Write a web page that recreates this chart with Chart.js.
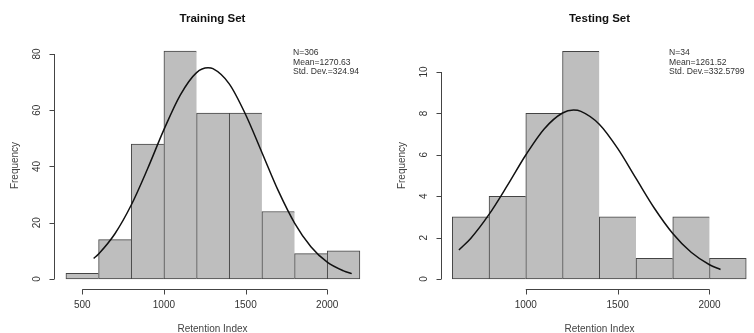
<!DOCTYPE html>
<html>
<head>
<meta charset="utf-8">
<script src="https://cdn.jsdelivr.net/npm/chart.js@4.4.1/dist/chart.umd.min.js"></script>
<style>
  html, body { margin: 0; padding: 0; background: #fff; overflow: hidden; }
  #wrap { position: relative; width: 754px; height: 333px; overflow: hidden; }
  canvas { position: absolute; top: 0; }
  #train { left: 0; }
  #test { left: 377px; }
</style>
</head>
<body>
<div id="wrap">
  <canvas id="train" width="377" height="333"></canvas>
  <canvas id="test" width="390" height="333"></canvas>
</div>
<script>
// ===============================
// DATA
// ===============================
const trainEdges  = [400, 600, 800, 1000, 1200, 1400, 1600, 1800, 2000, 2200];
const trainCenter = [500, 700, 900, 1100, 1300, 1500, 1700, 1900, 2100];
const trainCounts = [2, 14, 48, 81, 59, 59, 24, 9, 10];
const trainCurveX = [570, 600, 700, 800, 900, 1000, 1100, 1200, 1270, 1300, 1400, 1500, 1600, 1700, 1800, 1900, 2000, 2100, 2150];
const trainCurveY = [7.3, 8.9, 16.1, 26.3, 39.2, 53.1, 65.4, 73.4, 75.1, 74.8, 69.4, 58.5, 45.0, 31.4, 19.9, 11.5, 6.0, 2.9, 1.9];
const trainXTicks = [500, 1000, 1500, 2000];
const trainYTicks = [0, 20, 40, 60, 80];
const trainStats  = ["N=306", "Mean=1270.63", "Std. Dev.=324.94"];

const testEdges  = [600, 800, 1000, 1200, 1400, 1600, 1800, 2000, 2200];
const testCenter = [700, 900, 1100, 1300, 1500, 1700, 1900, 2100];
const testCounts = [3, 4, 8, 11, 3, 1, 3, 1];
const testCurveX = [636, 700, 800, 900, 1000, 1100, 1200, 1260, 1300, 1400, 1500, 1600, 1700, 1800, 1900, 2000, 2060];
const testCurveY = [1.4, 1.96, 3.12, 4.52, 5.99, 7.25, 8.02, 8.16, 8.10, 7.48, 6.31, 4.86, 3.42, 2.20, 1.29, 0.69, 0.46];
const testXTicks = [1000, 1500, 2000];
const testYTicks = [0, 2, 4, 6, 8, 10];
const testStats  = ["N=34", "Mean=1261.52", "Std. Dev.=332.5799"];

const FONT = '"Liberation Sans", Arial, Helvetica, sans-serif';

// ===============================
// R-STYLE AXES + TEXT
// ===============================
function rStyle(title, xTicks, yTicks, stats, statsX) {
  return {
    id: "rstyle",
    afterDraw(chart) {
      const { ctx, chartArea, scales: { x, y } } = chart;
      ctx.save();
      ctx.strokeStyle = "#444";
      ctx.fillStyle = "#333";
      ctx.lineWidth = 1;

      // y axis
      const ax = Math.round(chartArea.left) + 0.5;
      ctx.beginPath();
      ctx.moveTo(ax, y.getPixelForValue(yTicks[0]));
      ctx.lineTo(ax, y.getPixelForValue(yTicks[yTicks.length - 1]));
      yTicks.forEach(t => {
        const py = Math.round(y.getPixelForValue(t)) + 0.5;
        ctx.moveTo(ax - 5, py);
        ctx.lineTo(ax, py);
      });
      ctx.stroke();
      ctx.font = "10px " + FONT;
      ctx.textAlign = "center";
      ctx.textBaseline = "middle";
      yTicks.forEach(t => {
        ctx.save();
        ctx.translate(ax - 17, y.getPixelForValue(t));
        ctx.rotate(-Math.PI / 2);
        ctx.fillText(String(t), 0, 0);
        ctx.restore();
      });

      // x axis
      const ay = Math.round(chartArea.bottom) + 0.5;
      ctx.beginPath();
      ctx.moveTo(x.getPixelForValue(xTicks[0]), ay);
      ctx.lineTo(x.getPixelForValue(xTicks[xTicks.length - 1]), ay);
      xTicks.forEach(t => {
        const px = Math.round(x.getPixelForValue(t)) + 0.5;
        ctx.moveTo(px, ay);
        ctx.lineTo(px, ay + 5);
      });
      ctx.stroke();
      xTicks.forEach(t => ctx.fillText(String(t), x.getPixelForValue(t), 305));

      // axis titles
      const cx = (chartArea.left + chartArea.right) / 2;
      ctx.fillStyle = "#444";
      ctx.fillText("Retention Index", cx, 329);
      ctx.save();
      ctx.translate(chartArea.left - 39, (chartArea.top + chartArea.bottom) / 2);
      ctx.rotate(-Math.PI / 2);
      ctx.fillText("Frequency", 0, 0);
      ctx.restore();

      // main title
      ctx.fillStyle = "#111";
      ctx.font = "bold 11.5px " + FONT;
      ctx.fillText(title, cx, 19);

      // stats
      ctx.fillStyle = "#333";
      ctx.font = "8.6px " + FONT;
      ctx.textAlign = "left";
      stats.forEach((s, i) => ctx.fillText(s, statsX, 52.7 + i * 9.5));
      ctx.restore();
    }
  };
}

function histo(canvasId, cfg) {
  const last = cfg.counts.length - 1;
  return new Chart(document.getElementById(canvasId), {
    type: "bar",
    data: {
      datasets: [
        {
          type: "line",
          order: 0,
          data: cfg.curveX.map((v, i) => ({ x: v, y: cfg.curveY[i] })),
          borderColor: "#111",
          borderWidth: 1.5,
          pointRadius: 0,
          cubicInterpolationMode: "monotone",
          fill: false
        },
        {
          type: "bar",
          order: 1,
          data: cfg.centers.map((v, i) => ({ x: v, y: cfg.counts[i] })),
          backgroundColor: "#bebebe",
          borderColor: "#444",
          borderSkipped: false,
          borderWidth: c => ({ top: 1, bottom: 1, left: 1, right: c.dataIndex === last ? 1 : 0 }),
          barPercentage: 1,
          categoryPercentage: 1
        }
      ]
    },
    options: {
      responsive: false,
      animation: false,
      layout: { padding: cfg.padding },
      plugins: { legend: { display: false }, tooltip: { enabled: false } },
      scales: {
        x: {
          type: "linear", display: false, offset: false,
          min: cfg.xMin, max: cfg.xMax,
          afterBuildTicks: axis => { axis.ticks = cfg.edges.map(v => ({ value: v })); }
        },
        y: { type: "linear", display: false, min: cfg.yMin, max: cfg.yMax }
      }
    },
    plugins: [rStyle(cfg.title, cfg.xTicks, cfg.yTicks, cfg.stats, cfg.statsX)]
  });
}

histo("train", {
  title: "Training Set",
  edges: trainEdges, centers: trainCenter, counts: trainCounts,
  curveX: trainCurveX, curveY: trainCurveY,
  xTicks: trainXTicks, yTicks: trainYTicks, stats: trainStats, statsX: 293,
  padding: { left: 54, right: 6, top: 42, bottom: 44 },
  xMin: 327, xMax: 2268, yMin: -3.56, yMax: 84.27
});

histo("test", {
  title: "Testing Set",
  edges: testEdges, centers: testCenter, counts: testCounts,
  curveX: testCurveX, curveY: testCurveY,
  xTicks: testXTicks, yTicks: testYTicks, stats: testStats, statsX: 292,
  padding: { left: 64, right: 9, top: 42, bottom: 44 },
  xMin: 538.5, xMax: 2264, yMin: -0.483, yMax: 11.45
});
</script>
</body>
</html>
